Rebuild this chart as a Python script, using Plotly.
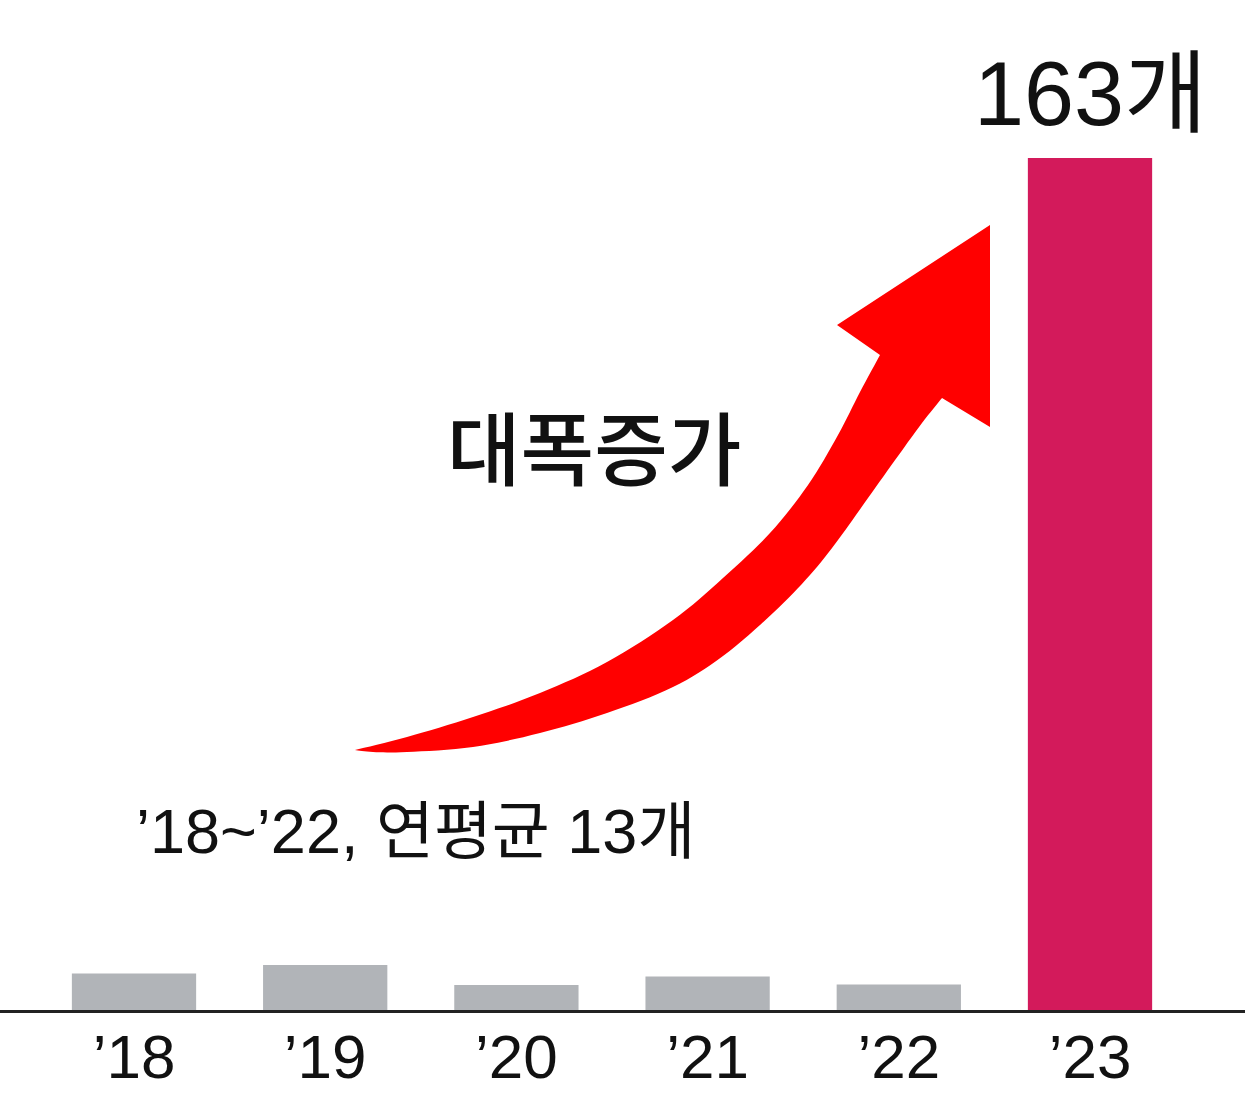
import plotly.graph_objects as go

# ---- data ----
years = ["’18", "’19", "’20", "’21", "’22", "’23"]
counts = [7.0, 8.6, 4.8, 6.4, 4.9, 163]
bar_colors = ["#b1b4b8", "#b1b4b8", "#b1b4b8", "#b1b4b8", "#b1b4b8", "#d31a5b"]
top_label = "163개"
growth_label = "대폭증가"
avg_label = "’18~’22, 연평균 13개"

W, H = 1245, 1107
PLOT_BOTTOM = 1010  # pixel row of the baseline

fig = go.Figure(
    go.Bar(
        x=list(range(len(years))),
        y=counts,
        marker=dict(color=bar_colors, line=dict(width=0)),
        width=0.65,
        hoverinfo="skip",
    )
)

# ---- decorative curved arrow outline (pixel space) ----
upper_edge = [(355, 750), (407, 737), (473, 717), (540, 693), (607, 662),
              (673, 620), (723, 578), (770, 533), (808, 485), (838, 435),
              (860, 392), (880, 355)]
head = [(837, 325), (990, 225), (990, 427)]
lower_edge = [(942, 398), (922, 423), (898, 456), (868, 498), (838, 540),
              (810, 575), (773, 613), (723, 656), (673, 687), (607, 713),
              (540, 733), (473, 747), (407, 752), (373, 752), (355, 750)]


def catmull(points, n=8):
    out = []
    P = [points[0]] + points + [points[-1]]
    for i in range(1, len(P) - 2):
        p0, p1, p2, p3 = P[i - 1], P[i], P[i + 1], P[i + 2]
        for k in range(n):
            t = k / n
            t2, t3 = t * t, t * t * t
            x = 0.5 * ((2 * p1[0]) + (-p0[0] + p2[0]) * t +
                       (2 * p0[0] - 5 * p1[0] + 4 * p2[0] - p3[0]) * t2 +
                       (-p0[0] + 3 * p1[0] - 3 * p2[0] + p3[0]) * t3)
            y = 0.5 * ((2 * p1[1]) + (-p0[1] + p2[1]) * t +
                       (2 * p0[1] - 5 * p1[1] + 4 * p2[1] - p3[1]) * t2 +
                       (-p0[1] + 3 * p1[1] - 3 * p2[1] + p3[1]) * t3)
            out.append((x, y))
    out.append(points[-1])
    return out


outline = catmull(upper_edge) + head + catmull(lower_edge)


def to_paper(px, py):
    return px / W, (PLOT_BOTTOM - py) / PLOT_BOTTOM


pts = [to_paper(*p) for p in outline]
path = "M " + " L ".join(f"{x:.5f},{y:.5f}" for x, y in pts) + " Z"
fig.add_shape(type="path", path=path, xref="paper", yref="paper",
              fillcolor="#ff0000", line=dict(width=0), layer="above")

latin = "Liberation Sans, Noto Sans CJK KR, sans-serif"

fig.add_annotation(x=5, y=counts[5], xref="x", yref="y", text=top_label,
                   showarrow=False, yanchor="bottom", yshift=12,
                   font=dict(family=latin, size=90, color="#111111"))
fig.add_annotation(x=594 / W, y=(PLOT_BOTTOM - 444) / PLOT_BOTTOM,
                   xref="paper", yref="paper", text=growth_label,
                   showarrow=False, xanchor="center", yanchor="middle",
                   font=dict(family="Noto Sans CJK KR", size=80, color="#111111",
                             weight=500))
fig.add_annotation(x=415 / W, y=(PLOT_BOTTOM - 831) / PLOT_BOTTOM,
                   xref="paper", yref="paper", text=avg_label,
                   showarrow=False, xanchor="center", yanchor="middle",
                   font=dict(family=latin, size=63, color="#111111"))

unit = 956 / 5
x0 = -134 / unit
fig.update_layout(
    width=W, height=H,
    margin=dict(l=0, r=0, t=0, b=H - PLOT_BOTTOM),
    paper_bgcolor="white", plot_bgcolor="white",
    showlegend=False,
    xaxis=dict(range=[x0, x0 + W / unit], tickmode="array",
               tickvals=list(range(len(years))), ticktext=years,
               showgrid=False, zeroline=False, showline=True,
               linecolor="#222222", linewidth=3, ticks="",
               ticklabelstandoff=-9,
               tickfont=dict(family=latin, size=62, color="#111111"),
               fixedrange=True),
    yaxis=dict(range=[0, PLOT_BOTTOM / (852 / 163)], visible=False,
               showgrid=False, zeroline=False, fixedrange=True),
)

fig.write_html("out.html", config={"displayModeBar": False},
               post_script="document.body.style.margin='0';")
